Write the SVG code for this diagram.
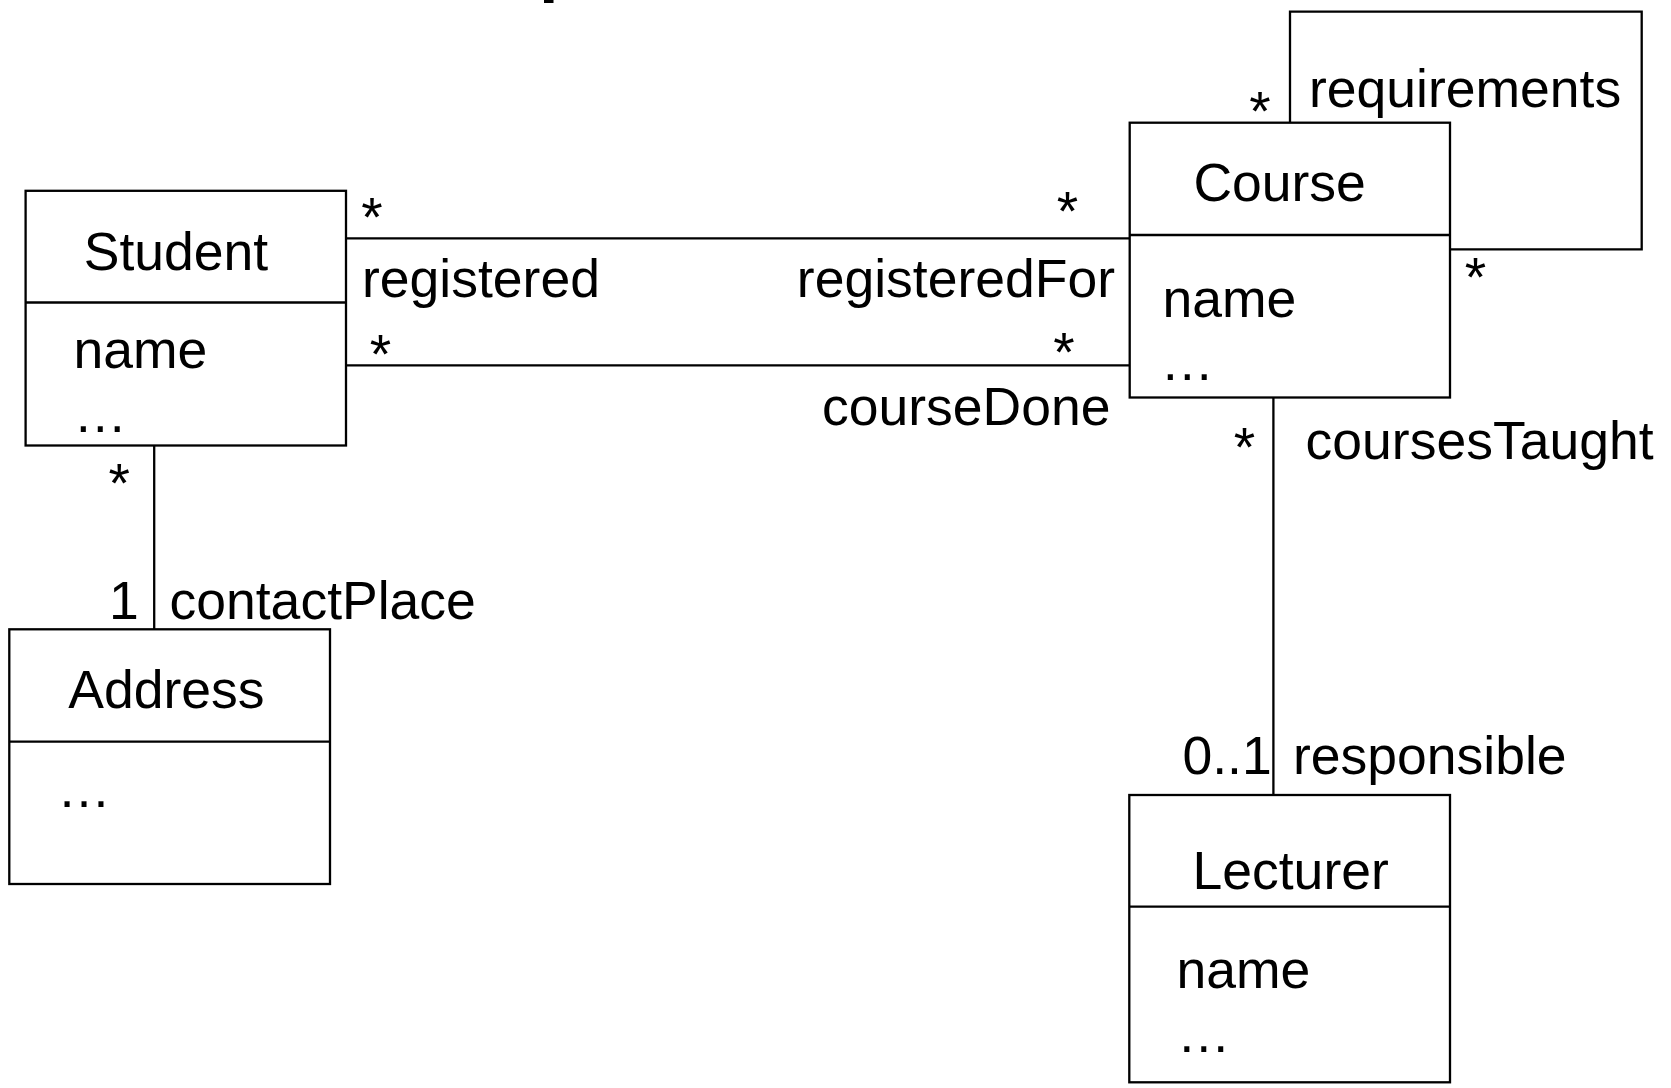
<svg xmlns="http://www.w3.org/2000/svg" width="1671" height="1088" viewBox="0 0 1671 1088">
  <style>
    .box { fill: #ffffff; stroke: #000000; stroke-width: 2.3; }
    .sep { stroke: #000000; stroke-width: 2.3; }
    .edge { fill: none; stroke: #000000; stroke-width: 2.3; }
    text { font-family: "Liberation Sans", Arial, sans-serif; font-size: 53.5px; fill: #000000; }
    .mult { font-size: 55px; text-anchor: middle; }
  </style>
  <rect width="1671" height="1088" fill="#ffffff"/>
  <!-- clipped remnant of a heading above the frame -->
  <rect x="544" y="0" width="9.5" height="3" fill="#000000"/>

  <g id="connectors">
    <!-- Student - Course: registered / registeredFor -->
    <line class="edge" x1="346" y1="238.3" x2="1129.7" y2="238.3"/>
    <text class="mult" x="372" y="236.4">*</text>
    <text class="mult" x="1067.5" y="229.8">*</text>
    <text x="362" y="297.3">registered</text>
    <text x="1115" y="297.3" text-anchor="end">registeredFor</text>

    <!-- Student - Course: courseDone -->
    <line class="edge" x1="346" y1="365.3" x2="1129.7" y2="365.3"/>
    <text class="mult" x="380.5" y="373">*</text>
    <text class="mult" x="1064" y="370.5">*</text>
    <text x="822" y="425">courseDone</text>

    <!-- Course self association: requirements -->
    <polyline class="edge" points="1290,122.7 1290,11.7 1641.7,11.7 1641.7,249.3 1450,249.3"/>
    <text class="mult" x="1260" y="130.3">*</text>
    <text class="mult" x="1475.5" y="295.6">*</text>
    <text x="1309" y="107.3">requirements</text>

    <!-- Student - Address: contactPlace -->
    <line class="edge" x1="154.2" y1="445.5" x2="154.2" y2="634"/>
    <text class="mult" x="119.2" y="501.8">*</text>
    <text x="109" y="619">1</text>
    <text x="169.5" y="619">contactPlace</text>

    <!-- Course - Lecturer: coursesTaught / responsible -->
    <line class="edge" x1="1273.4" y1="397.5" x2="1273.4" y2="795"/>
    <text class="mult" x="1244.5" y="465.5">*</text>
    <text x="1305.6" y="458.5">coursesTaught</text>
    <text x="1182.5" y="774">0..1</text>
    <text x="1293" y="774">responsible</text>
  </g>

  <g id="student">
    <rect class="box" x="25.6" y="190.8" width="320.4" height="254.7"/>
    <line class="sep" x1="25.6" y1="302.5" x2="346" y2="302.5"/>
    <text x="83.8" y="270">Student</text>
    <text x="73.5" y="367.5">name</text>
    <text x="73.6" y="431.5">…</text>
  </g>

  <g id="course">
    <rect class="box" x="1129.7" y="122.7" width="320.3" height="274.8"/>
    <line class="sep" x1="1129.7" y1="235" x2="1450" y2="235"/>
    <text x="1193.4" y="201">Course</text>
    <text x="1162.5" y="317">name</text>
    <text x="1160.6" y="380">…</text>
  </g>

  <g id="address">
    <rect class="box" x="9.3" y="629.3" width="320.7" height="254.7"/>
    <line class="sep" x1="9.3" y1="741.7" x2="330" y2="741.7"/>
    <text x="68.3" y="708.3">Address</text>
    <text x="57.3" y="806.7">…</text>
  </g>

  <g id="lecturer">
    <rect class="box" x="1129.3" y="795" width="320.7" height="287.3"/>
    <line class="sep" x1="1129.3" y1="906.7" x2="1450" y2="906.7"/>
    <text x="1192.5" y="889.3">Lecturer</text>
    <text x="1176.5" y="987.5">name</text>
    <text x="1177" y="1051.7">…</text>
  </g>
</svg>
